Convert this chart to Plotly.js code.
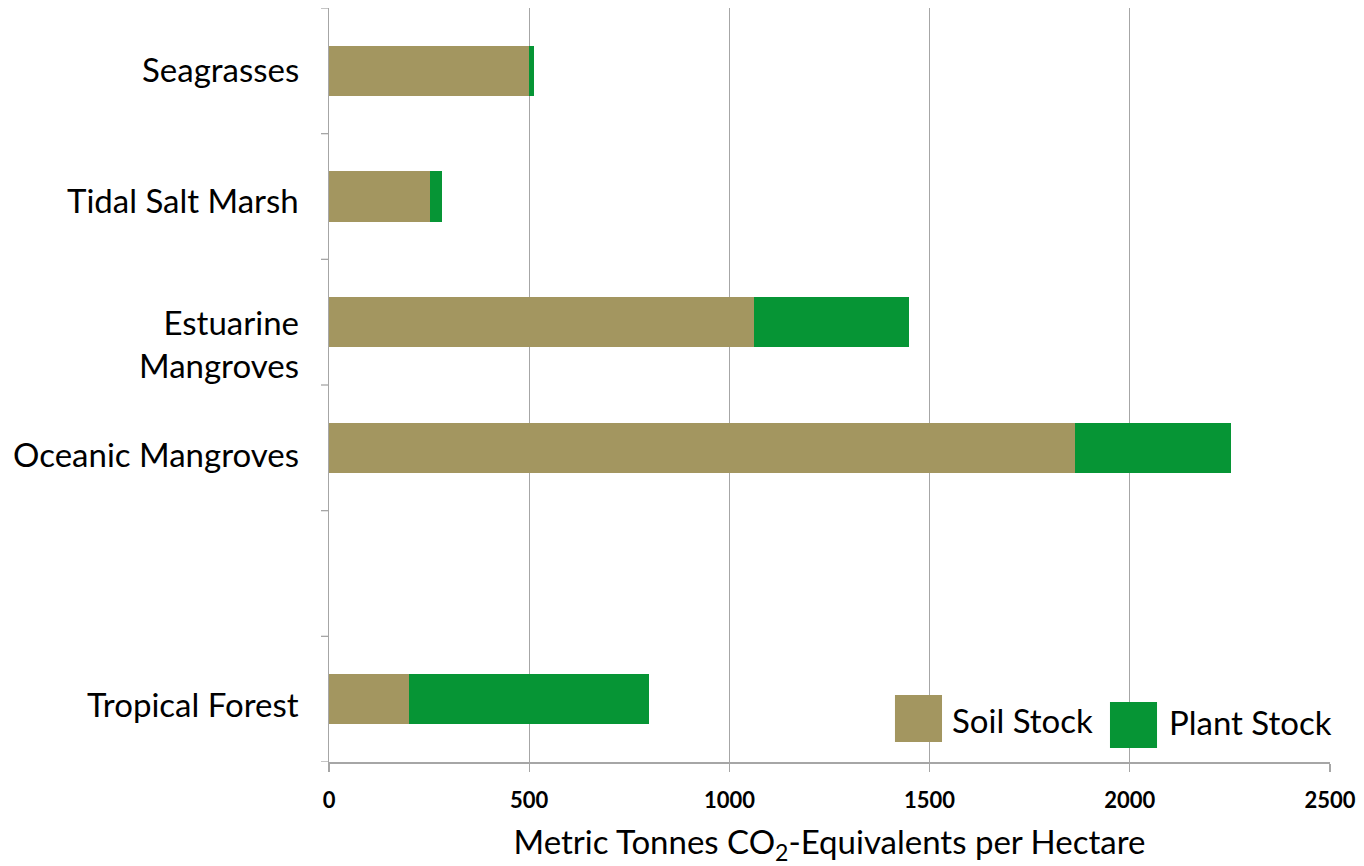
<!DOCTYPE html>
<html>
<head>
<meta charset="utf-8">
<script src="https://cdn.plot.ly/plotly-3.0.1.min.js"></script>
<style>
html,body{margin:0;padding:0;background:#fff;}
#chart{width:1364px;height:866px;}
</style>
</head>
<body>
<div id="chart"></div>
<script>
// Data
var categories = ["Seagrasses", "Tidal Salt Marsh", "Estuarine<br>Mangroves", "Oceanic Mangroves", "", "Tropical Forest"];
var soilStock  = [500, 251, 1061, 1864, null, 201];
var plantStock = [11, 32, 388, 388, null, 599];
var seriesNames = ["Soil Stock", "Plant Stock"];
var seriesColors = ["#A39660", "#069535"];
var xTicks = [0, 500, 1000, 1500, 2000, 2500];

var FONT = "Lato, 'Open Sans', sans-serif";

// category axis uses index positions so the empty slot still takes space
var yIdx = categories.map(function (c, i) { return i; });

var traces = [
  {type: "bar", orientation: "h", y: yIdx, x: soilStock, name: seriesNames[0],
   marker: {color: seriesColors[0], line: {width: 0}}, showlegend: false, hoverinfo: "x+name"},
  {type: "bar", orientation: "h", y: yIdx, x: plantStock, name: seriesNames[1],
   marker: {color: seriesColors[1], line: {width: 0}}, showlegend: false, hoverinfo: "x+name"}
];

var boundaries = [];
for (var i = 0; i <= categories.length; i++) boundaries.push(i - 0.5);

var shapes = [
  {type: "rect", xref: "paper", yref: "paper", x0: 0.5654, x1: 0.6124, y0: 0.0265, y1: 0.0889,
   fillcolor: seriesColors[0], line: {width: 0}},
  {type: "rect", xref: "paper", yref: "paper", x0: 0.7802, x1: 0.8272, y0: 0.0186, y1: 0.0796,
   fillcolor: seriesColors[1], line: {width: 0}}
];
// y-axis tick marks on category boundaries
boundaries.forEach(function (b) {
  shapes.push({type: "line", xref: "paper", yref: "y", x0: -0.008, x1: 0, y0: b, y1: b,
               line: {color: "#A6A6A6", width: 1.3}});
});

var annotations = [
  {xref: "paper", yref: "paper", x: 0.6204, y: 0.0557, xanchor: "left", yanchor: "middle",
   text: seriesNames[0], showarrow: false, font: {family: FONT, size: 33, color: "#000"}},
  {xref: "paper", yref: "paper", x: 0.8372, y: 0.053, xanchor: "left", yanchor: "middle",
   text: seriesNames[1], showarrow: false, font: {family: FONT, size: 33, color: "#000"}}
];
// category labels
var labelShift = [2, -3, -21, -6, 0, -5];
categories.forEach(function (c, i) {
  if (!c) return;
  annotations.push({xref: "paper", yref: "y", x: -0.028, y: i, xanchor: "right", yanchor: "middle",
    text: c, showarrow: false, align: "right", yshift: labelShift[i],
    font: {family: FONT, size: 33, color: "#000"}});
});

var layout = {
  width: 1364, height: 866,
  margin: {l: 329, r: 34, t: 8, b: 104, pad: 0},
  paper_bgcolor: "#fff", plot_bgcolor: "#fff",
  barmode: "stack", bargap: 0.6,
  font: {family: FONT, color: "#000"},
  xaxis: {
    range: [0, 2500], tickvals: xTicks, ticktext: xTicks.map(String),
    showgrid: true, gridcolor: "#A6A6A6", gridwidth: 1.3,
    zeroline: false, showline: true, linecolor: "#A6A6A6", linewidth: 1.5,
    ticks: "outside", ticklen: 8, tickcolor: "#A6A6A6", tickwidth: 1.3,
    ticklabelstandoff: 10,
    tickfont: {family: FONT, size: 22, color: "#000", weight: "bold"},
    title: {text: "Metric Tonnes CO<sub>2</sub>-Equivalents per Hectare",
            font: {family: FONT, size: 33, color: "#000"}, standoff: 22},
    fixedrange: true
  },
  yaxis: {
    range: [categories.length - 0.5, -0.5],
    showgrid: false, zeroline: false, showline: true, linecolor: "#A6A6A6", linewidth: 1.5,
    ticks: "", showticklabels: false,
    fixedrange: true
  },
  shapes: shapes,
  annotations: annotations
};

Plotly.newPlot("chart", traces, layout, {displayModeBar: false, staticPlot: true});
</script>
</body>
</html>
